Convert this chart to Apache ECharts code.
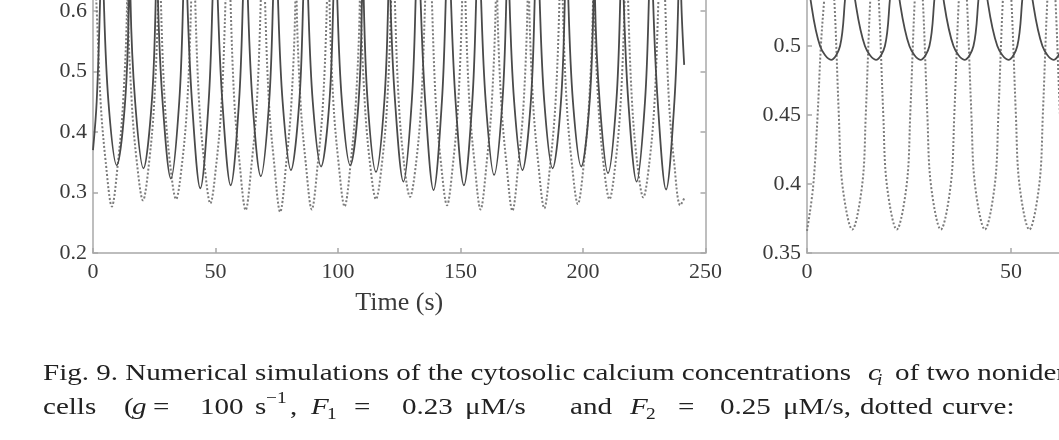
<!DOCTYPE html>
<html>
<head>
<meta charset="utf-8">
<script src="https://cdn.jsdelivr.net/npm/echarts@6/dist/echarts.min.js"></script>
<style>
html,body{margin:0;padding:0;background:#fff;width:1059px;height:440px;overflow:hidden;position:relative;}
#c{position:absolute;left:0;top:-360px;width:1500px;height:800px;}
</style>
</head>
<body>
<div id="c"></div>
<script>
// ---- Data ----
// Left panel: time axis 0..250 s, concentration axis 0.2..
const leftXTicks = [0, 50, 100, 150, 200, 250];
const leftYTicks = [0.2, 0.3, 0.4, 0.5, 0.6];
// solid curve (cell 1), [time, conc]
const leftSolid = [[0,0.37],[1.5,0.45],[2.9,0.62],[3.6,0.8],[4.4,0.62],[6.3,0.45],[9.7,0.345],[13.1,0.45],[14.7,0.62],[15.0,0.8],[15.3,0.62],[17.2,0.45],[20.6,0.340],[24.0,0.45],[25.6,0.62],[26.05,0.8],[26.5,0.62],[28.4,0.45],[31.8,0.323],[35.2,0.45],[36.8,0.62],[37.65,0.8],[38.5,0.62],[40.4,0.45],[43.8,0.307],[47.2,0.45],[48.8,0.62],[49.85,0.8],[50.9,0.62],[52.8,0.45],[56.2,0.312],[59.6,0.45],[61.2,0.62],[62.2,0.8],[63.2,0.62],[65.1,0.45],[68.5,0.327],[71.9,0.45],[73.5,0.62],[74.5,0.8],[75.5,0.62],[77.4,0.45],[80.8,0.337],[84.2,0.45],[85.8,0.62],[86.8,0.8],[87.8,0.62],[89.7,0.45],[93.1,0.343],[96.5,0.45],[98.1,0.62],[98.9,0.8],[99.7,0.62],[101.6,0.45],[105.0,0.345],[108.4,0.45],[109.8,0.62],[110.15,0.8],[110.5,0.62],[112.1,0.45],[115.5,0.334],[118.9,0.45],[120.5,0.62],[120.95,0.8],[121.4,0.62],[123.3,0.45],[126.7,0.318],[130.1,0.45],[131.7,0.62],[132.7,0.8],[133.7,0.62],[135.6,0.45],[139.0,0.304],[142.4,0.45],[144.0,0.62],[145.05,0.8],[146.1,0.62],[148.0,0.45],[151.4,0.312],[154.8,0.45],[156.4,0.62],[157.4,0.8],[158.4,0.62],[160.3,0.45],[163.7,0.329],[167.1,0.45],[168.7,0.62],[169.35,0.8],[170.0,0.62],[171.9,0.45],[175.3,0.337],[178.7,0.45],[180.3,0.62],[181.2,0.8],[182.3,0.62],[184.2,0.45],[187.6,0.340],[191.0,0.45],[192.6,0.62],[193.3,0.8],[194.0,0.62],[195.9,0.45],[199.3,0.343],[202.7,0.45],[204.3,0.62],[204.6,0.8],[204.9,0.62],[206.8,0.45],[210.2,0.332],[213.6,0.45],[215.2,0.62],[215.9,0.8],[216.6,0.62],[218.5,0.45],[221.9,0.318],[225.3,0.45],[226.9,0.62],[227.75,0.8],[228.6,0.62],[230.5,0.45],[233.9,0.305],[237.3,0.45],[238.9,0.62],[239.5,0.8],[240.1,0.62],[241.3,0.511]];
// dotted curve (cell 2), [time, conc]
const leftDotted = [[0,0.7],[1.3,0.62],[3.1,0.45],[5.2,0.35],[7.7,0.277],[10.2,0.35],[12.3,0.45],[13.9,0.62],[14.05,0.8],[14.2,0.62],[15.8,0.45],[17.9,0.35],[20.4,0.287],[22.9,0.35],[25.0,0.45],[26.6,0.62],[27.15,0.8],[27.7,0.62],[29.3,0.45],[31.4,0.35],[33.9,0.289],[36.4,0.35],[38.5,0.45],[40.1,0.62],[40.9,0.8],[41.7,0.62],[43.3,0.45],[45.4,0.35],[47.9,0.282],[50.4,0.35],[52.5,0.45],[54.1,0.62],[55.1,0.8],[56.1,0.62],[57.7,0.45],[59.8,0.35],[62.3,0.271],[64.8,0.35],[66.9,0.45],[68.5,0.62],[69.35,0.8],[70.2,0.62],[71.8,0.45],[73.9,0.35],[76.4,0.268],[78.9,0.35],[81.0,0.45],[82.6,0.62],[82.85,0.8],[83.1,0.62],[84.7,0.45],[86.8,0.35],[89.3,0.272],[91.8,0.35],[93.9,0.45],[95.5,0.62],[96.0,0.8],[96.5,0.62],[98.1,0.45],[100.2,0.35],[102.7,0.277],[105.2,0.35],[107.3,0.45],[108.9,0.62],[109.1,0.8],[109.3,0.62],[110.9,0.45],[113.0,0.35],[115.5,0.289],[118.0,0.35],[120.1,0.45],[121.7,0.62],[122.45,0.8],[123.2,0.62],[124.8,0.45],[126.9,0.35],[129.4,0.293],[131.9,0.35],[134.0,0.45],[135.6,0.62],[136.95,0.8],[138.3,0.62],[139.9,0.45],[142.0,0.35],[144.5,0.279],[147.0,0.35],[149.1,0.45],[150.7,0.62],[151.35,0.8],[152.0,0.62],[153.6,0.45],[155.7,0.35],[158.2,0.272],[160.7,0.35],[162.8,0.45],[164.4,0.62],[164.7,0.8],[165.0,0.62],[166.6,0.45],[168.7,0.35],[171.2,0.270],[173.7,0.35],[175.8,0.45],[177.4,0.62],[177.7,0.8],[178.0,0.62],[179.6,0.45],[181.7,0.35],[184.2,0.274],[186.7,0.35],[188.8,0.45],[190.4,0.62],[191.05,0.8],[191.7,0.62],[193.3,0.45],[195.4,0.35],[197.9,0.281],[200.4,0.35],[202.5,0.45],[204.1,0.62],[204.35,0.8],[204.6,0.62],[206.2,0.45],[208.3,0.35],[210.8,0.289],[213.3,0.35],[215.4,0.45],[217.0,0.62],[217.7,0.8],[218.4,0.62],[220.0,0.45],[222.1,0.35],[224.6,0.292],[227.1,0.35],[229.2,0.45],[230.8,0.62],[232.15,0.8],[233.5,0.62],[235.1,0.45],[237.2,0.35],[239.7,0.279],[241.3,0.29]];

// Right panel: time axis 0..150 s, concentration axis 0.35..
const rightXTicks = [0, 50, 100, 150];
const rightYTicks = [0.35, 0.4, 0.45, 0.5];
const rightSolid = [[0,0.56],[0.9,0.533],[3.2,0.5],[5.9,0.49],[8.1,0.5],[9.3,0.533],[10.3,0.57],[11.8,0.533],[14.2,0.5],[16.9,0.49],[19.1,0.5],[20.3,0.533],[21.3,0.57],[22.7,0.533],[25.1,0.5],[27.8,0.49],[30.0,0.5],[31.2,0.533],[32.2,0.57],[33.5,0.533],[35.9,0.5],[38.6,0.49],[40.8,0.5],[42.0,0.533],[43.0,0.57],[44.25,0.533],[46.65,0.5],[49.35,0.49],[51.55,0.5],[52.75,0.533],[53.8,0.57],[55.3,0.533],[57.7,0.5],[60.4,0.49],[62.6,0.5],[63.8,0.533],[64.8,0.57],[66.1,0.533],[68.5,0.5],[71.2,0.49],[73.4,0.5],[74.6,0.533],[75.6,0.57]];
const rightDotted = [[0,0.366],[1.5,0.398],[2.6,0.45],[3.4,0.5],[4.2,0.533],[5.5,0.58],[6.7,0.533],[7.8,0.45],[8.65,0.4],[11.1,0.367],[13.55,0.4],[14.4,0.45],[15.5,0.533],[16.55,0.58],[17.6,0.533],[18.7,0.45],[19.55,0.4],[22.0,0.367],[24.45,0.4],[25.3,0.45],[26.4,0.533],[27.4,0.58],[28.4,0.533],[29.5,0.45],[30.35,0.4],[32.8,0.367],[35.25,0.4],[36.1,0.45],[37.2,0.533],[38.2,0.58],[39.2,0.533],[40.3,0.45],[41.15,0.4],[43.6,0.367],[46.05,0.4],[46.9,0.45],[48.0,0.533],[49.05,0.58],[50.1,0.533],[51.2,0.45],[52.05,0.4],[54.5,0.367],[56.95,0.4],[57.8,0.45],[58.9,0.533],[59.9,0.58],[60.9,0.533],[62.0,0.45],[62.85,0.4],[65.3,0.367],[67.75,0.4],[68.6,0.45],[69.7,0.533],[70.7,0.58]];

const xTitle = 'Time (s)';

// ---- Styling ----
const OY = 360; // chart canvas is shifted up by this many px (upper part of figure is cropped)
const AX = '#a8a8a8';
const TXT = '#3a3a3a';
const SERIF = '"Liberation Serif","DejaVu Serif",serif';
const labelStyle = {color: TXT, fontFamily: SERIF, fontSize: 22};
const fmt = v => String(Math.round(v * 100) / 100);

function xAxisFor(grid, ticks){
  return {
    type:'value', gridIndex:grid, min:ticks[0], max:ticks[ticks.length-1], interval:ticks[1]-ticks[0],
    axisLine:{show:true, onZero:false, lineStyle:{color:AX, width:1.5}},
    axisTick:{show:true, inside:true, length:5, lineStyle:{color:AX, width:1.5}},
    axisLabel:Object.assign({margin:8, formatter:fmt}, labelStyle),
    splitLine:{show:false},
    name: xTitle, nameLocation:'middle', nameGap:37,
    nameTextStyle:{color:TXT, fontFamily:SERIF, fontSize:26}
  };
}
function yAxisFor(grid, min, max, interval, pos, showLabels){
  return {
    type:'value', gridIndex:grid, min:min, max:max, interval:interval, position:pos,
    axisLine:{show:true, onZero:false, lineStyle:{color:AX, width:1.5}},
    axisTick:{show:true, inside:true, length:5, lineStyle:{color:AX, width:1.5}},
    axisLabel:Object.assign({show:showLabels, margin:6, formatter:fmt}, labelStyle),
    splitLine:{show:false}
  };
}

const chart = echarts.init(document.getElementById('c'), null, {renderer:'canvas', width:1500, height:800});

const SX = 1.21;
const capFont = '24px "Liberation Serif", serif';
const capItal = 'italic 24px "Liberation Serif", serif';
const capSmall = '16px "Liberation Serif", serif';
const capSmallItal = 'italic 16px "Liberation Serif", serif';
function t(x, y, text, font){
  return {type:'text', x:x, y:y + OY, scaleX:SX, scaleY:1, silent:true,
    style:{text:text, font:font, fill:'#222', textVerticalAlign:'middle', textAlign:'left'}};
}
const L1 = 374, L2 = 408;
const caption = [
  t(43, L1, 'Fig. 9. Numerical simulations of the cytosolic calcium concentrations', capFont),
  t(868, L1, 'c', capItal),
  t(877, L1+7, 'i', capSmallItal),
  t(895, L1, 'of two nonidentical', capFont),
  t(43, L2, 'cells', capFont),
  t(124, L2, '(', capFont),
  t(132, L2, 'g', capItal),
  t(153, L2, '=', capFont),
  t(200, L2, '100', capFont),
  t(255, L2, 's', capFont),
  t(266, L2-9, '\u22121', capSmall),
  t(290, L2, ',', capFont),
  t(311, L2, 'F', capItal),
  t(327, L2+7, '1', capSmall),
  t(354, L2, '=', capFont),
  t(402, L2, '0.23', capFont),
  t(465, L2, '\u03bcM/s', capFont),
  t(570, L2, 'and', capFont),
  t(630, L2, 'F', capItal),
  t(646, L2+7, '2', capSmall),
  t(678, L2, '=', capFont),
  t(720, L2, '0.25', capFont),
  t(783, L2, '\u03bcM/s,', capFont),
  t(860, L2, 'dotted', capFont),
  t(942, L2, 'curve:', capFont)
];

const SM = 0.35;
chart.setOption({
  animation:false,
  backgroundColor:'#fff',
  grid:[
    {left:93, right:1500-705.5, top:-231+OY, bottom:187, containLabel:false},
    {left:807, right:1500-1419, top:-161+OY, bottom:187, containLabel:false}
  ],
  xAxis:[xAxisFor(0, leftXTicks), xAxisFor(1, rightXTicks)],
  yAxis:[
    yAxisFor(0, leftYTicks[0], 1.0, 0.1, 'left', true),
    yAxisFor(0, leftYTicks[0], 1.0, 0.1, 'right', false),
    yAxisFor(1, rightYTicks[0], 0.65, 0.05, 'left', true)
  ],
  series:[
    {type:'line', xAxisIndex:0, yAxisIndex:0, data:leftDotted, showSymbol:false, symbol:'none', smooth:SM,
     lineStyle:{color:'#7c7c7c', width:2, type:'dotted'}, z:2},
    {type:'line', xAxisIndex:0, yAxisIndex:0, data:leftSolid, showSymbol:false, symbol:'none', smooth:SM,
     lineStyle:{color:'#4a4a4a', width:1.8}, z:3},
    {type:'line', xAxisIndex:1, yAxisIndex:2, data:rightDotted, showSymbol:false, symbol:'none', smooth:SM,
     lineStyle:{color:'#7c7c7c', width:2, type:'dotted'}, z:2},
    {type:'line', xAxisIndex:1, yAxisIndex:2, data:rightSolid, showSymbol:false, symbol:'none', smooth:SM,
     lineStyle:{color:'#4a4a4a', width:1.8}, z:3}
  ],
  graphic: caption
});
</script>
</body>
</html>
